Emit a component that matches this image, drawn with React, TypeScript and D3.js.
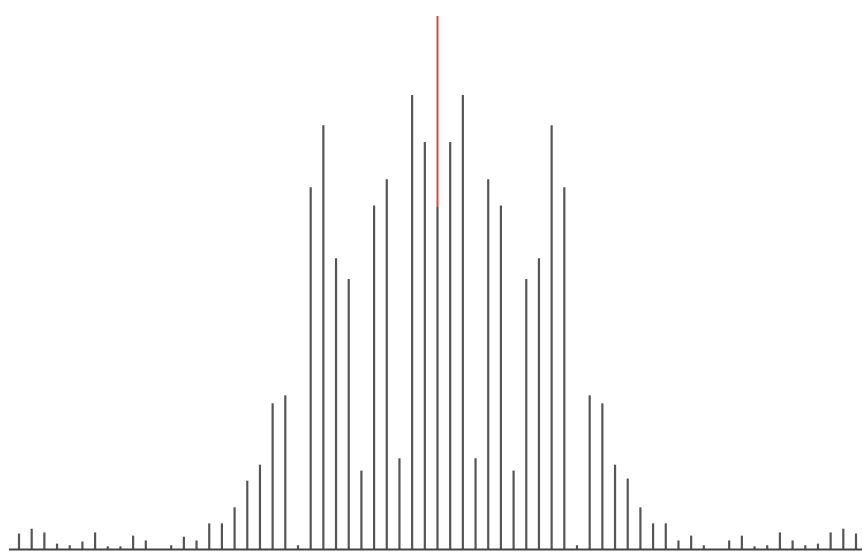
import React from "react";
import * as d3 from "d3";

// magnitude per bin, left to right (peak bin = 100)
const magnitudes = [
  3.0, 3.9, 3.2, 1.1, 0.8, 1.5, 3.2, 0.6, 0.6, 2.6, 1.7, 0, 0.8, 2.4, 1.7,
  4.9, 4.9, 7.9, 12.9, 15.9, 27.4, 28.9, 0.8, 67.9, 79.5, 54.6, 50.7, 14.8,
  64.5, 69.4, 17.1, 85.2, 76.4, 64.2, 76.4, 85.2, 17.1, 69.4, 64.5, 14.8,
  50.7, 54.6, 79.5, 67.9, 0.8, 28.9, 27.4, 15.9, 13.3, 7.9, 4.9, 4.9, 1.7,
  2.6, 0.8, 0, 1.7, 2.6, 0.6, 0.8, 3.2, 1.7, 0.8, 1.1, 3.2, 3.9, 3.0,
];

// highlighted bin, red part drawn above its gray stem
const peakBin = 33;
const peakValue = 100;

const width = 862;
const height = 554;

const App = () => {
  const x = d3
    .scaleLinear()
    .domain([0, magnitudes.length - 1])
    .range([19, 856]);

  const y = d3.scaleLinear().domain([0, 100]).range([549.5, 16]);

  return (
    <svg
      width={width}
      height={height}
      style={{ position: "fixed", left: 0, top: 0, background: "#fff" }}
    >
      <g stroke="#555" strokeWidth={2.2}>
        {magnitudes.map((m, i) => (
          <line key={i} x1={x(i)} x2={x(i)} y1={y(0)} y2={y(m)} />
        ))}
      </g>
      <line
        x1={x(peakBin)}
        x2={x(peakBin)}
        y1={y(magnitudes[peakBin])}
        y2={y(peakValue)}
        stroke="#e0453c"
        strokeWidth={2}
      />
      <line
        x1={9}
        x2={width}
        y1={y(0)}
        y2={y(0)}
        stroke="#444"
        strokeWidth={2}
      />
    </svg>
  );
};

export default App;
